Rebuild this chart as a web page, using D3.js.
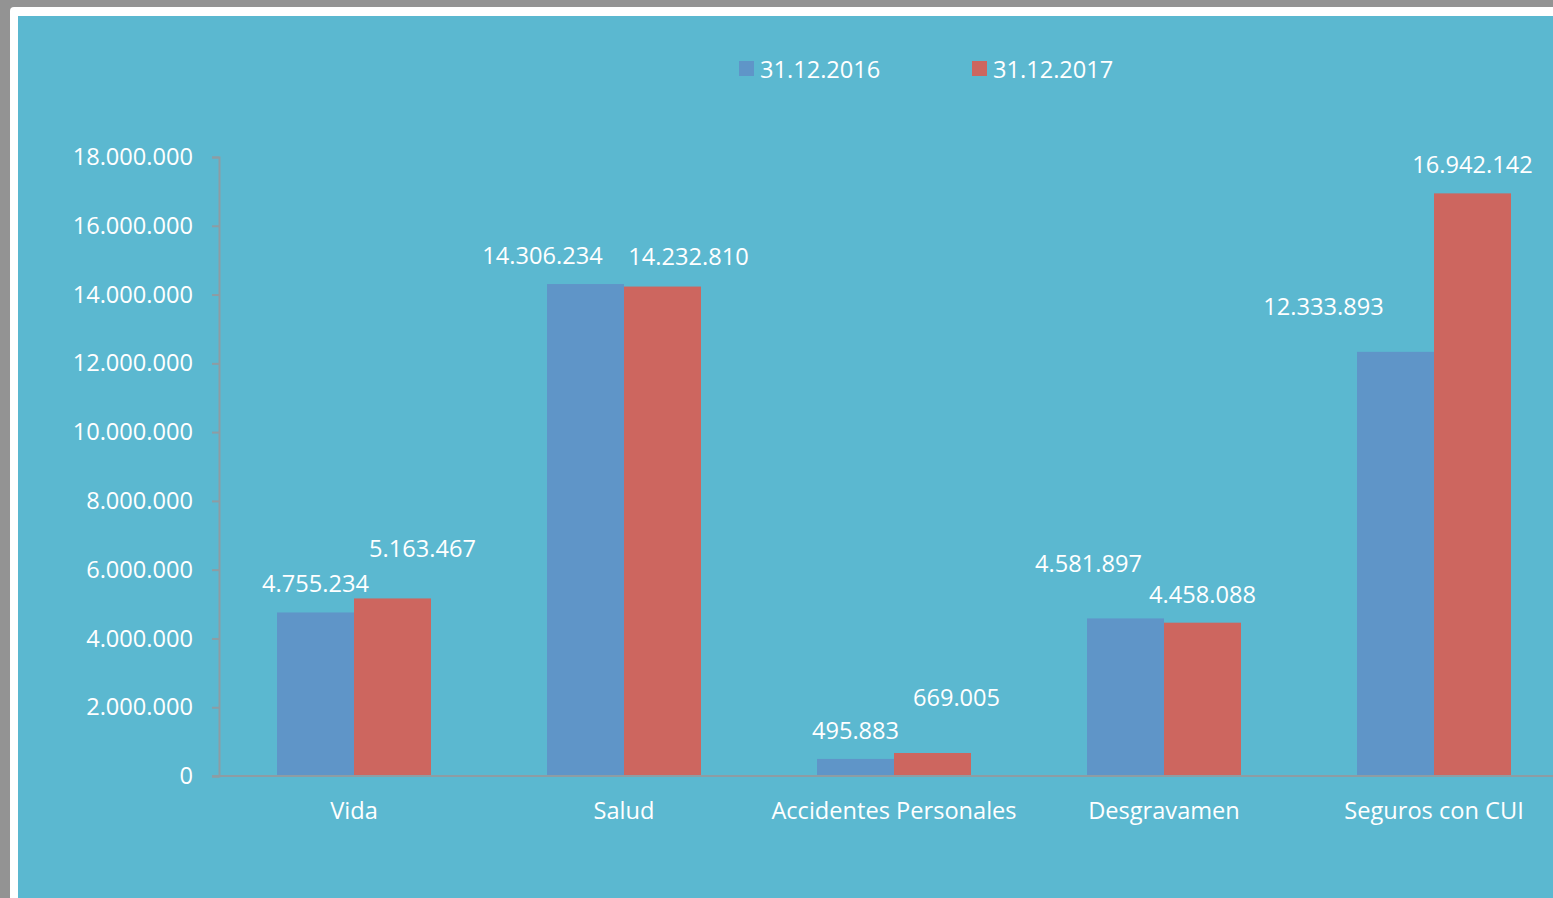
<!DOCTYPE html>
<html>
<head>
<meta charset="utf-8">
<script src="https://cdn.jsdelivr.net/npm/d3@7"></script>
<style>
  html, body { margin: 0; padding: 0; background: #939393; overflow: hidden; }
  svg { display: block; font-family: "Open Sans", sans-serif; }
</style>
</head>
<body>
<svg id="chart" width="1553" height="898"></svg>
<script>
const categories = ["Vida", "Salud", "Accidentes Personales", "Desgravamen", "Seguros con CUI"];
const seriesNames = ["31.12.2016", "31.12.2017"];
const values2016 = [4755234, 14306234, 495883, 4581897, 12333893];
const values2017 = [5163467, 14232810, 669005, 4458088, 16942142];
const yTicks = [0, 2000000, 4000000, 6000000, 8000000, 10000000, 12000000, 14000000, 16000000, 18000000];
const colors = ["#5F95C8", "#CD665F"];
// manual label nudges (dx, dy) as in the original chart
const labelNudge2016 = [[0, 0], [-43, 0], [0, 0], [-37, -26], [-72, -17]];
const labelNudge2017 = [[30, -21], [26, -2], [24, -27], [0, 0], [0, 0]];

const FS = 23.6;
const svg = d3.select("#chart");
const W = 1553, H = 898;

// frame
svg.append("rect").attr("x", 10).attr("y", 7).attr("width", W).attr("height", H)
  .attr("rx", 4).attr("fill", "#ffffff");
svg.append("rect").attr("x", 18).attr("y", 16).attr("width", W).attr("height", H)
  .attr("fill", "#5BB8D0");

const fmt = v => d3.format(",")(v).replace(/,/g, ".");

const y = d3.scaleLinear().domain([0, 18000000]).range([776, 157]);
const x0 = d3.scaleBand().domain(categories).range([219, 1569]).padding(0);
const x1 = d3.scaleBand().domain(seriesNames).range([58, 212]).padding(0);

const axisColor = "#8E9CA3";

// y axis
const yAxis = svg.append("g").attr("transform", "translate(219,0)")
  .call(d3.axisLeft(y).tickValues(yTicks).tickFormat(fmt).tickSize(7).tickPadding(19));
yAxis.select(".domain").attr("stroke", axisColor).attr("stroke-width", 2);
yAxis.selectAll(".tick line").attr("stroke", axisColor).attr("stroke-width", 2);
yAxis.selectAll(".tick text").attr("fill", "#ffffff").attr("font-size", FS)
  .attr("font-family", "'Open Sans', sans-serif");

// bars
const series = [values2016, values2017];
const nudges = [labelNudge2016, labelNudge2017];
series.forEach((vals, si) => {
  const g = svg.append("g");
  g.selectAll("rect").data(categories).join("rect")
    .attr("x", c => x0(c) + x1(seriesNames[si]))
    .attr("width", x1.bandwidth())
    .attr("y", (c, i) => y(vals[i]))
    .attr("height", (c, i) => y(0) - y(vals[i]))
    .attr("fill", colors[si]);
  g.selectAll("text").data(categories).join("text")
    .attr("x", (c, i) => x0(c) + x1(seriesNames[si]) + x1.bandwidth() / 2 + nudges[si][i][0])
    .attr("y", (c, i) => y(vals[i]) - 20 + nudges[si][i][1])
    .attr("text-anchor", "middle")
    .attr("fill", "#ffffff").attr("font-size", FS)
    .text((c, i) => fmt(vals[i]));
});

// x axis
const xAxis = svg.append("g").attr("transform", "translate(0,776)")
  .call(d3.axisBottom(x0).tickSize(0).tickPadding(26));
xAxis.select(".domain").remove();
svg.append("line").attr("x1", 212).attr("x2", W).attr("y1", 776).attr("y2", 776)
  .attr("stroke", axisColor).attr("stroke-width", 2);
xAxis.selectAll(".tick text").attr("fill", "#ffffff").attr("font-size", FS)
  .attr("font-family", "'Open Sans', sans-serif");

// legend
const legendX = [739, 972];
seriesNames.forEach((s, i) => {
  svg.append("rect").attr("x", legendX[i]).attr("y", 61).attr("width", 15).attr("height", 15)
    .attr("fill", colors[i]);
  svg.append("text").attr("x", legendX[i] + 21).attr("y", 78)
    .attr("fill", "#ffffff").attr("font-size", FS).text(s);
});
</script>
</body>
</html>
